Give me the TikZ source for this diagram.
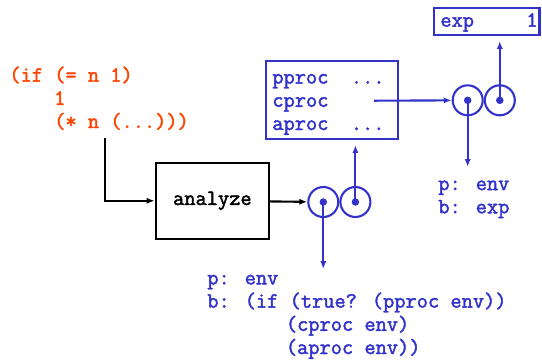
\documentclass[tikz,border=0pt]{standalone}
\usepackage{fontspec}
\usetikzlibrary{arrows.meta,positioning}
\newfontfamily\lispfont{Latin Modern Mono}[FakeBold=2]
\definecolor{schemered}{RGB}{255,68,0}
\definecolor{envblue}{RGB}{51,51,204}

\begin{document}
\begin{tikzpicture}[
    x=0.02cm, y=-0.02cm,
    code/.style={font=\fontsize{12.4}{13.2}\lispfont\bfseries, align=left, inner sep=0pt, anchor=base west},
    box/.style={rectangle, draw, line width=1.2pt, inner sep=0pt},
    bubble/.style={circle, draw=envblue, line width=1.2pt, minimum size=0.6cm, inner sep=0pt},
    dot/.style={circle, fill=envblue, minimum size=0.15cm, inner sep=0pt},
    arrow/.style={-{Latex[length=4.5pt,width=3.5pt]}, line width=1.2pt}
]
  \useasboundingbox (0,0) rectangle (542,360);

  % Nodes (base anchor of a multi-line node sits on its last line)
  \node[code, text=schemered] (expr) at (9,128) {(if (= n 1)\\~~~~1\\~~~~(* n (...)))};
  \node[box, minimum width=2.27cm, minimum height=1.53cm, font=\fontsize{12.4}{13.2}\lispfont\bfseries] (analyze) at (212.4,200.8) {analyze};

  \node[box, draw=envblue, minimum width=2.64cm, minimum height=1.56cm] (frame) at (332,100) {};
  \node[code, text=envblue] (frametext) at (272,130) {pproc~~...\\cproc\\aproc~~...};
  \node[box, draw=envblue, minimum width=2.11cm, minimum height=0.54cm] (expbox) at (486.75,21.5) {};
  \node[code, text=envblue] (exptext) at (440,26.7) {exp};
  \node[code, text=envblue, anchor=base east] (expval) at (538,26.7) {1};

  % procedure objects
  \node[bubble] (body1) at (323.3,202) {};
  \node[bubble, right=0pt of body1] (env1) {};
  \node[dot] (body1dot) at (body1.center) {};
  \node[dot] (env1dot) at (env1.center) {};
  \node[bubble] (body2) at (467.7,100.3) {};
  \node[bubble, right=0pt of body2] (env2) {};
  \node[dot] (body2dot) at (body2.center) {};
  \node[dot] (env2dot) at (env2.center) {};

  \node[code, text=envblue] (proc1) at (207,354) {p: env\\b: (if (true? (pproc env))\\~~~~~~~(cproc env)\\~~~~~~~(aproc env))};
  \node[code, text=envblue] (proc2) at (438,213.3) {p: env\\b: exp};

  \coordinate (exprout) at (105,138);
  \coordinate (cprocout) at (374,100.7);
  \coordinate (body1end) at (323.3,269);
  \coordinate (body2end) at (467.7,167);

  % Arrows
  \draw[arrow] (exprout) |- (analyze);
  \draw[arrow] (analyze) -- (body1);
  \draw[arrow, envblue] (body1dot.center) -- (body1end);
  \draw[arrow, envblue, shorten >=0.1cm] (env1dot.center) -- (env1dot |- frame.south);
  \draw[arrow, envblue] (cprocout) -- (body2);
  \draw[arrow, envblue] (body2dot.center) -- (body2end);
  \draw[arrow, envblue, shorten >=0.1cm] (env2dot.center) -- (env2dot |- expbox.south);
\end{tikzpicture}
\end{document}
